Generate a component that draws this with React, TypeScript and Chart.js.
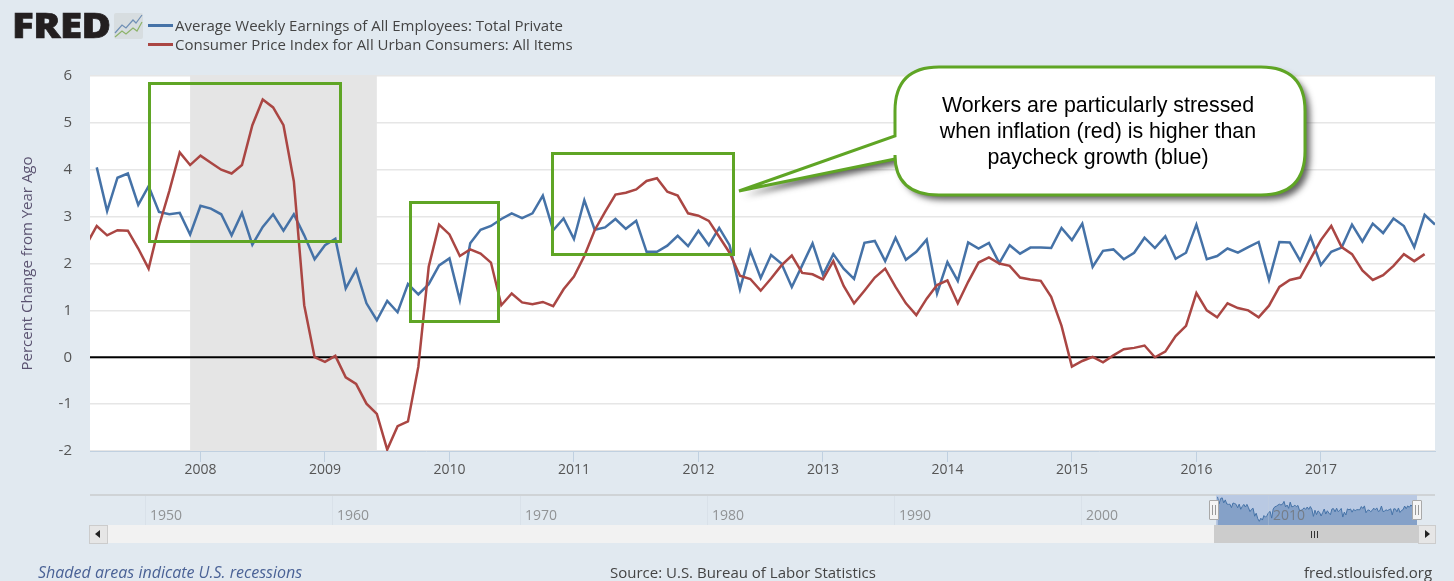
import { useEffect, useRef } from 'react';
import { Chart, registerables } from 'chart.js';

Chart.register(...registerables);

// monthly, starting Feb 2007
const months = Array.from({ length: 131 }, (_, i) => 2007 + (i + 1) / 12);

const earnings = [
  null, 4.05, 3.12, 3.83, 3.92, 3.25, 3.65, 3.1, 3.05, 3.08, 2.62,
  3.23, 3.17, 3.05, 2.6, 3.08, 2.4, 2.78, 3.05, 2.7, 3.05, 2.6, 2.09,
  2.39, 2.53, 1.47, 1.87, 1.15, 0.79, 1.2, 0.96, 1.56, 1.34, 1.56, 1.96,
  2.11, 1.22, 2.43, 2.72, 2.8, 2.95, 3.07, 2.97, 3.07, 3.45, 2.71, 2.96,
  2.52, 3.35, 2.72, 2.77, 2.95, 2.74, 2.91, 2.25, 2.25, 2.38, 2.59, 2.37,
  2.7, 2.39, 2.76, 2.39, 1.45, 2.27, 1.69, 2.18, 2.0, 1.5, 1.96, 2.43,
  1.76, 2.2, 1.89, 1.67, 2.44, 2.48, 2.05, 2.55, 2.08, 2.25, 2.51, 1.36,
  2.03, 1.63, 2.45, 2.32, 2.44, 2.01, 2.39, 2.21, 2.34, 2.34, 2.33, 2.76,
  2.5, 2.85, 1.93, 2.27, 2.3, 2.09, 2.23, 2.55, 2.33, 2.58, 2.1, 2.23,
  2.83, 2.09, 2.16, 2.32, 2.23, 2.35, 2.46, 1.65, 2.46, 2.45, 2.06, 2.57,
  1.97, 2.25, 2.34, 2.83, 2.47, 2.85, 2.65, 2.96, 2.8, 2.35, 3.04, 2.83,
];

const cpi = [
  2.4, 2.8, 2.6, 2.71, 2.7, 2.32, 1.89, 2.8, 3.55, 4.37, 4.1,
  4.3, 4.15, 4.0, 3.92, 4.1, 4.95, 5.5, 5.33, 4.95, 3.75, 1.11, 0.0,
  -0.1, 0.03, -0.43, -0.57, -0.99, -1.21, -1.97, -1.47, -1.37, -0.2, 1.93, 2.83,
  2.62, 2.16, 2.3, 2.21, 2.02, 1.11, 1.36, 1.17, 1.13, 1.18, 1.09, 1.45,
  1.72, 2.16, 2.71, 3.1, 3.47, 3.51, 3.58, 3.76, 3.82, 3.53, 3.45, 3.07,
  3.02, 2.91, 2.57, 2.23, 1.74, 1.67, 1.42, 1.68, 1.96, 2.17, 1.8, 1.77,
  1.66, 2.05, 1.52, 1.15, 1.42, 1.7, 1.89, 1.5, 1.15, 0.9, 1.25, 1.54,
  1.64, 1.15, 1.61, 2.02, 2.13, 2.0, 1.95, 1.7, 1.66, 1.63, 1.29, 0.67,
  -0.2, -0.08, 0.01, -0.11, 0.04, 0.17, 0.2, 0.25, 0.0, 0.12, 0.45, 0.67,
  1.37, 1.0, 0.85, 1.15, 1.05, 1.0, 0.85, 1.1, 1.5, 1.65, 1.7, 2.1,
  2.5, 2.8, 2.35, 2.2, 1.85, 1.65, 1.75, 1.95, 2.2, 2.05, 2.2, null,
];

const yearTicks = [2008, 2009, 2010, 2011, 2012, 2013, 2014, 2015, 2016, 2017];
const recession = [2007 + 11 / 12, 2009 + 5 / 12];
const navDecades = [
  { label: '1950', left: 145 },
  { label: '1960', left: 332 },
  { label: '1970', left: 520 },
  { label: '1980', left: 707 },
  { label: '1990', left: 894 },
  { label: '2000', left: 1081 },
  { label: '2010', left: 1268 },
];

const GREEN = '#5fa525';
const BLUE = '#4572a7';
const RED = '#aa4643';
const FONT = "'Open Sans', sans-serif";

const toPoints = (values: (number | null)[]) => values.map((y, i) => ({ x: months[i], y }));

// white plot area and recession band go under the lines
const plotBackground = {
  id: 'plotBackground',
  beforeDraw(chart: any) {
    const { ctx, chartArea: a } = chart;
    ctx.save();
    ctx.fillStyle = '#ffffff';
    ctx.fillRect(a.left, a.top - 1, a.right - a.left, a.bottom - a.top + 1);
    ctx.restore();
  },
  beforeDatasetsDraw(chart: any) {
    const { ctx, chartArea: a, scales } = chart;
    const x0 = scales.x.getPixelForValue(recession[0]);
    const x1 = scales.x.getPixelForValue(recession[1]);
    ctx.save();
    ctx.fillStyle = '#e5e5e5';
    ctx.fillRect(x0, a.top - 1, x1 - x0, a.bottom - a.top + 1);
    ctx.restore();
  },
};

// pasted-on annotation: the green boxes and the speech bubble
const annotations = {
  id: 'annotations',
  afterDraw(chart: any) {
    const { ctx } = chart;
    ctx.save();
    ctx.strokeStyle = GREEN;
    ctx.lineWidth = 3;
    ctx.strokeRect(149.5, 83.5, 191, 158);
    ctx.strokeRect(410.5, 202.5, 88, 119);
    ctx.strokeRect(552.5, 153.5, 181, 101);

    const l = 895, r = 1305, t = 67, b = 195, rad = 44;
    ctx.beginPath();
    ctx.moveTo(l + rad, t);
    ctx.lineTo(r - rad, t);
    ctx.quadraticCurveTo(r, t, r, t + rad);
    ctx.lineTo(r, b - rad);
    ctx.quadraticCurveTo(r, b, r - rad, b);
    ctx.lineTo(l + rad, b);
    ctx.quadraticCurveTo(l, b, l, b - rad + 4);
    ctx.lineTo(l, 159);
    ctx.lineTo(739, 191);
    ctx.lineTo(l, 136);
    ctx.lineTo(l, t + rad);
    ctx.quadraticCurveTo(l, t, l + rad, t);
    ctx.closePath();
    ctx.shadowColor = 'rgba(60,60,60,0.8)';
    ctx.shadowBlur = 6;
    ctx.shadowOffsetX = 5;
    ctx.shadowOffsetY = 5;
    ctx.fillStyle = '#ffffff';
    ctx.fill();
    ctx.shadowColor = 'transparent';
    ctx.stroke();

    ctx.fillStyle = '#000000';
    ctx.font = "21.4px 'Liberation Sans', Arial, sans-serif";
    ctx.textAlign = 'center';
    ctx.textBaseline = 'middle';
    ctx.fillText('Workers are particularly stressed', 1098, 106);
    ctx.fillText('when inflation (red) is higher than', 1098, 132);
    ctx.fillText('paycheck growth (blue)', 1098, 158);
    ctx.restore();
  },
};

const box = (left: number, top: number, width: number, height: number, extra = {}) => ({
  position: 'absolute' as const,
  left,
  top,
  width,
  height,
  ...extra,
});

const Handle = ({ left }: { left: number }) => (
  <div style={box(left, 500, 8, 18, { background: '#f4f4f4', border: '1px solid #a9a9a9', borderRadius: 1 })}>
    <div style={box(2, 4, 1, 10, { background: '#999' })} />
    <div style={box(5, 4, 1, 10, { background: '#999' })} />
  </div>
);

const App = () => {
  const chartRef = useRef<HTMLCanvasElement | null>(null);
  const navRef = useRef<HTMLCanvasElement | null>(null);

  useEffect(() => {
    if (!chartRef.current || !navRef.current) return;

    const chart = new Chart(chartRef.current, {
      type: 'line',
      data: {
        datasets: [
          { data: toPoints(earnings), borderColor: BLUE, borderWidth: 2.5, pointRadius: 0, order: 2 },
          { data: toPoints(cpi), borderColor: RED, borderWidth: 2.5, pointRadius: 0, order: 1 },
          {
            data: [{ x: months[0], y: 0 }, { x: months[months.length - 1], y: 0 }],
            borderColor: '#000000',
            borderWidth: 2,
            pointRadius: 0,
            order: 3,
          },
        ],
      },
      options: {
        responsive: false,
        animation: false,
        parsing: false,
        layout: { padding: { left: 0, right: 19, top: 76, bottom: 100 } },
        plugins: { legend: { display: false }, tooltip: { enabled: false } },
        scales: {
          x: {
            type: 'linear',
            min: 2007 + 1.35 / 12,
            max: months[months.length - 1],
            afterBuildTicks: (scale: any) => {
              scale.ticks = yearTicks.map(value => ({ value }));
            },
            afterFit: (scale: any) => {
              scale.height = 30;
            },
            border: { color: '#c0d0e0' },
            grid: { drawOnChartArea: false, tickLength: 11, color: '#c0d0e0' },
            ticks: {
              autoSkip: false,
              maxRotation: 0,
              padding: 0,
              color: '#555',
              font: { family: FONT, size: 14 },
              callback: (v: any) => String(v),
            },
          },
          y: {
            min: -2,
            max: 6,
            afterFit: (scale: any) => {
              scale.width = 90;
            },
            border: { display: false },
            grid: { color: '#e6e6e6', lineWidth: 1.5, drawTicks: false },
            ticks: { stepSize: 1, padding: 18, color: '#555', font: { family: FONT, size: 15 } },
            title: {
              display: true,
              text: 'Percent Change from Year Ago',
              color: '#5a5270',
              padding: { top: 19, bottom: 0 },
              font: { family: FONT, size: 15 },
            },
          },
        },
      },
      plugins: [plotBackground, annotations],
    });

    const nav = new Chart(navRef.current, {
      type: 'line',
      data: {
        datasets: [
          {
            data: toPoints(earnings),
            borderColor: BLUE,
            backgroundColor: 'rgba(69,114,167,0.45)',
            borderWidth: 1,
            pointRadius: 0,
            fill: 'start',
          },
        ],
      },
      options: {
        responsive: false,
        animation: false,
        parsing: false,
        plugins: { legend: { display: false }, tooltip: { enabled: false } },
        scales: {
          x: { type: 'linear', display: false, min: months[0], max: months[months.length - 1] },
          y: { display: false, min: 0.3, max: 4.3 },
        },
      },
    });

    return () => {
      chart.destroy();
      nav.destroy();
    };
  }, []);

  return (
    <div style={{ position: 'relative', width: 1454, height: 581, overflow: 'hidden', background: '#e1e9f0', fontFamily: FONT }}>
      <style>{'body{margin:0;overflow:hidden}'}</style>

      <canvas ref={chartRef} width={1454} height={581} style={{ position: 'absolute', left: 0, top: 0 }} />

      {/* logo */}
      <div
        style={box(12, 5, 100, 40, {
          fontFamily: FONT,
          fontWeight: 800,
          fontSize: 36,
          lineHeight: '40px',
          letterSpacing: -0.5,
          color: '#231f20',
          WebkitTextStroke: '0.7px #231f20',
          transform: 'scaleX(1.12)',
          transformOrigin: 'left center',
        })}
      >
        FRED
      </div>
      <svg style={box(114, 13, 29, 26, {})} viewBox="0 0 29 26">
        <rect width="29" height="26" rx="2" fill="#d7dde0" />
        <polyline points="1,20 8,12 12,15 19,7 22,10 28,2" fill="none" stroke="#6f8fb5" strokeWidth="1.2" />
        <polyline points="1,24 8,18 12,21 19,15 23,18 28,9" fill="none" stroke="#8db36a" strokeWidth="1.2" />
      </svg>

      {/* legend */}
      <div style={box(148, 24, 25, 3, { background: BLUE })} />
      <div style={box(148, 43, 25, 3, { background: RED })} />
      <div style={{ position: 'absolute', left: 175, top: 15, fontSize: 15, lineHeight: '20px', color: '#444', whiteSpace: 'nowrap' }}>
        Average Weekly Earnings of All Employees: Total Private
      </div>
      <div style={{ position: 'absolute', left: 175, top: 34, fontSize: 15, lineHeight: '20px', color: '#444', whiteSpace: 'nowrap' }}>
        Consumer Price Index for All Urban Consumers: All Items
      </div>

      {/* navigator */}
      <div style={box(90, 494, 1345, 2, { background: '#cfd3d6' })} />
      <canvas ref={navRef} width={201} height={30} style={{ position: 'absolute', left: 1216, top: 495, background: '#b9c9e3' }} />
      {navDecades.map(d => (
        <div key={d.label}>
          <div style={box(d.left, 496, 1, 29, { background: 'rgba(200,210,220,0.3)' })} />
          <div style={{ position: 'absolute', left: d.left + 5, top: 505, fontSize: 14, lineHeight: '20px', color: 'rgba(110,110,110,0.7)' }}>
            {d.label}
          </div>
        </div>
      ))}
      <Handle left={1209} />
      <Handle left={1412} />

      {/* scrollbar */}
      <div style={box(90, 525, 1345, 18, { background: '#f2f2f2' })} />
      <div style={box(89, 525, 17, 17, { background: '#e6e6e6', border: '1px solid #ccc' })}>
        <div style={{ position: 'absolute', left: 5, top: 4, width: 0, height: 0, borderTop: '4px solid transparent', borderBottom: '4px solid transparent', borderRight: '5px solid #222' }} />
      </div>
      <div style={box(1214, 525, 204, 18, { background: '#cccccc' })}>
        <div style={box(97, 6, 1, 7, { background: '#333' })} />
        <div style={box(100, 6, 1, 7, { background: '#333' })} />
        <div style={box(103, 6, 1, 7, { background: '#333' })} />
      </div>
      <div style={box(1418, 525, 16, 17, { background: '#e6e6e6', border: '1px solid #ccc' })}>
        <div style={{ position: 'absolute', left: 6, top: 4, width: 0, height: 0, borderTop: '4px solid transparent', borderBottom: '4px solid transparent', borderLeft: '5px solid #222' }} />
      </div>

      {/* footer */}
      <div style={{ position: 'absolute', left: 38, top: 562, fontSize: 16, lineHeight: '20px', fontStyle: 'italic', color: '#4a6296', whiteSpace: 'nowrap' }}>
        Shaded areas indicate U.S. recessions
      </div>
      <div style={{ position: 'absolute', left: 610, top: 562, fontSize: 15, lineHeight: '20px', color: '#444', whiteSpace: 'nowrap' }}>
        Source: U.S. Bureau of Labor Statistics
      </div>
      <div style={{ position: 'absolute', left: 1304, top: 562, fontSize: 15, lineHeight: '20px', color: '#444', whiteSpace: 'nowrap' }}>
        fred.stlouisfed.org
      </div>
    </div>
  );
};

export default App;
